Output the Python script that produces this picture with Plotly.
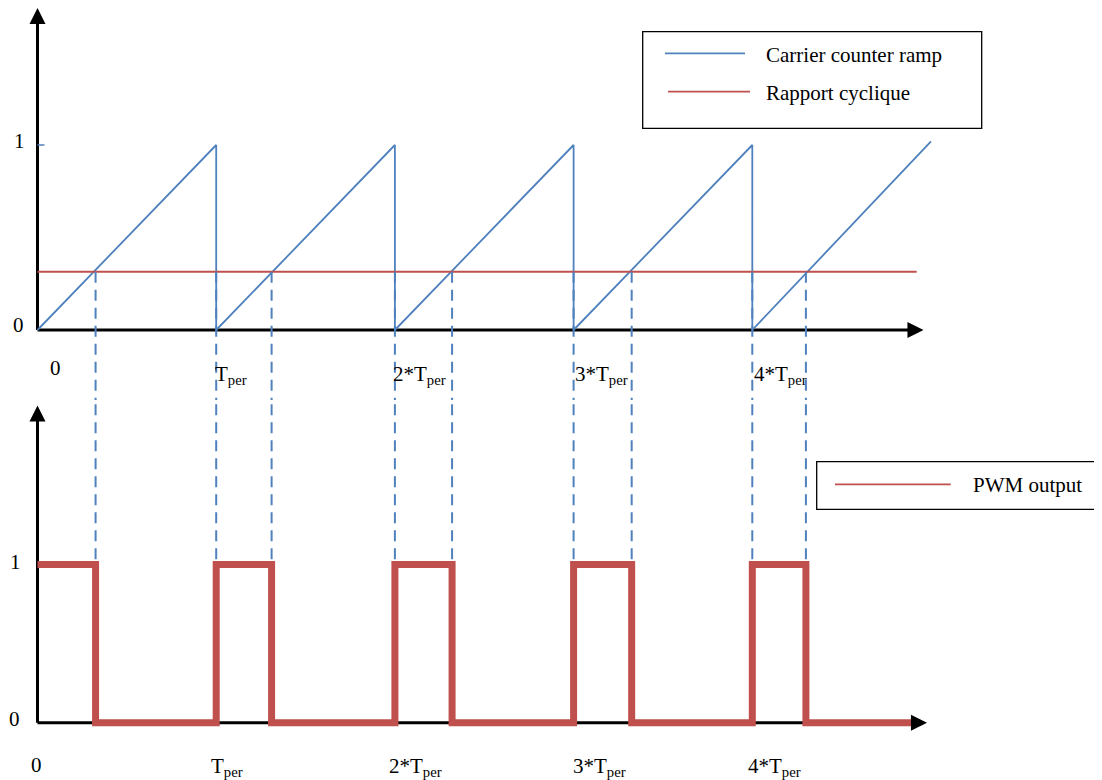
import plotly.graph_objects as go

# ---------------- data ----------------
ramp_t = [0, 1, 1, 2, 2, 3, 3, 4, 4, 5]
ramp_v = [0, 1, 0, 1, 0, 1, 0, 1, 0, 1.02]
duty = 0.315
duty_t = [0, 4.92]
period_starts = [1, 2, 3, 4]
fall_times = [0.325, 1.31, 2.32, 3.325, 4.30]
pwm_t = [0, 0.325, 0.325, 1, 1, 1.31, 1.31, 2, 2, 2.32, 2.32,
         3, 3, 3.325, 3.325, 4, 4, 4.30, 4.30, 4.89]
pwm_v = [1, 1, 0, 0, 1, 1, 0, 0, 1, 1, 0, 0, 1, 1, 0, 0, 1, 1, 0, 0]
tick_pos = [0, 1, 2, 3, 4]
tick_text = ["0", "T<sub>per</sub>", "2*T<sub>per</sub>", "3*T<sub>per</sub>", "4*T<sub>per</sub>"]
level_text = ["0", "1"]
series_names = ["Carrier counter ramp", "Rapport cyclique", "PWM output"]

# ---------------- styles / geometry ----------------
BLUE = "#4F81BD"
RED = "#C0504D"
FONT = "Liberation Serif"
FS = 21

PAGE_W, PAGE_H = 1102, 780
OFF = 8                      # default page margin around the plot div
W, H = PAGE_W - OFF, PAGE_H - OFF

# geometry below is given in page pixels, converted to figure coordinates
X0_PX, PER_PX = 37.5, 178.7
Y0_TOP, UNIT_TOP = 330.0, 185.0
Y0_BOT, UNIT_BOT = 722.7, 158.2
SPLIT = 400.0


def xt(px):
    return (px - X0_PX) / PER_PX


def ytop(px):
    return (Y0_TOP - px) / UNIT_TOP


def ybot(px):
    return (Y0_BOT - px) / UNIT_BOT


def px_(x):
    return (x - OFF) / W


def py_(y):
    return 1 - (y - OFF) / H


fig = go.Figure()

# top: carrier ramp
fig.add_trace(go.Scatter(x=ramp_t, y=ramp_v, mode="lines", name=series_names[0],
                         line=dict(color=BLUE, width=1.8), xaxis="x", yaxis="y",
                         showlegend=False))
# top: duty level
fig.add_trace(go.Scatter(x=duty_t, y=[duty, duty], mode="lines", name=series_names[1],
                         line=dict(color=RED, width=1.8), xaxis="x", yaxis="y",
                         showlegend=False))

# dashed projection lines (top part and bottom part)
dash_x_top, dash_y_top, dash_x_bot, dash_y_bot = [], [], [], []
for t in sorted(fall_times + period_starts):
    dash_x_top += [t, t, None]
    dash_y_top += [duty, ytop(SPLIT) - 0.2, None]
    dash_x_bot += [t, t, None]
    dash_y_bot += [ybot(SPLIT) + 0.2, 1, None]
fig.add_trace(go.Scatter(x=dash_x_top, y=dash_y_top, mode="lines",
                         line=dict(color=BLUE, width=2, dash="11px,7px"),
                         xaxis="x", yaxis="y", showlegend=False, hoverinfo="skip"))
fig.add_trace(go.Scatter(x=dash_x_bot, y=dash_y_bot, mode="lines",
                         line=dict(color=BLUE, width=2, dash="11px,7px"),
                         xaxis="x2", yaxis="y2", showlegend=False, hoverinfo="skip"))

# bottom: PWM output
fig.add_trace(go.Scatter(x=pwm_t, y=pwm_v, mode="lines", name=series_names[2],
                         line=dict(color=RED, width=7), xaxis="x2", yaxis="y2",
                         showlegend=False))

shapes = []
annotations = []

# axis lines (below traces)
axl = dict(color="black", width=3)
shapes += [
    dict(type="line", xref="x", yref="y", x0=0, x1=0, y0=0, y1=ytop(20), line=axl, layer="below"),
    dict(type="line", xref="x", yref="y", x0=0, x1=xt(912), y0=0, y1=0, line=axl, layer="below"),
    dict(type="line", xref="x2", yref="y2", x0=0, x1=0, y0=0, y1=ybot(416), line=axl, layer="below"),
    dict(type="line", xref="x2", yref="y2", x0=0, x1=xt(915), y0=0, y1=0, line=axl, layer="below"),
]
# small blue tick at level 1 on the top axis
shapes.append(dict(type="line", xref="x", yref="y", x0=0, x1=xt(44.5), y0=1, y1=1,
                   line=dict(color=BLUE, width=1.5)))


# arrow heads
def head(xref, yref, x, y, ax, ay):
    return dict(xref=xref, yref=yref, x=x, y=y, ax=ax, ay=ay, text=" ",
                showarrow=True, arrowhead=2, arrowsize=1.07, arrowwidth=3,
                arrowcolor="black", font=dict(size=4))


annotations += [
    head("x", "y", 0, ytop(8), 0, 16),
    head("x", "y", xt(923.5), 0, -16, 0),
    head("x2", "y2", 0, ybot(405.5), 0, 16),
    head("x2", "y2", xt(927), 0, -16, 0),
]

# level labels
tf = dict(family=FONT, size=FS, color="black")
for (x, y, txt) in [(18, 325, level_text[0]), (19, 141, level_text[1]),
                    (14.5, 718.5, level_text[0]), (15.5, 561.7, level_text[1])]:
    annotations.append(dict(xref="paper", yref="paper", x=px_(x), y=py_(y), text=txt,
                            showarrow=False, font=tf, xanchor="center", yanchor="middle"))

# time tick labels (top and bottom)
top_shift = [10, -3, -4, -1, 0]
bot_shift = [-9, -7, -8, -3, -6]
for k, (p, txt) in enumerate(zip(tick_pos, tick_text)):
    annotations.append(dict(xref="x", yref="paper", x=p, y=py_(368 if k == 0 else 375),
                            text=txt, showarrow=False, font=tf,
                            xanchor="left", yanchor="middle", xshift=top_shift[k]))
    annotations.append(dict(xref="x2", yref="paper", x=p, y=py_(765 if k == 0 else 767),
                            text=txt, showarrow=False, font=tf,
                            xanchor="left", yanchor="middle", xshift=bot_shift[k]))

# legend boxes (drawn manually)
box = dict(color="black", width=1.3)
shapes += [
    dict(type="rect", xref="paper", yref="paper", x0=px_(642.7), x1=px_(981.7),
         y0=py_(128.3), y1=py_(31.7), line=box, fillcolor="white"),
    dict(type="line", xref="paper", yref="paper", x0=px_(665), x1=px_(745),
         y0=py_(53.3), y1=py_(53.3), line=dict(color=BLUE, width=1.8)),
    dict(type="line", xref="paper", yref="paper", x0=px_(668), x1=px_(750),
         y0=py_(91.7), y1=py_(91.7), line=dict(color=RED, width=1.8)),
    dict(type="rect", xref="paper", yref="paper", x0=px_(816.7), x1=px_(1101.3),
         y0=py_(509.3), y1=py_(461.7), line=box, fillcolor="white"),
    dict(type="line", xref="paper", yref="paper", x0=px_(835), x1=px_(950.7),
         y0=py_(484.3), y1=py_(484.3), line=dict(color=RED, width=1.8)),
]
annotations += [
    dict(xref="paper", yref="paper", x=px_(764.3), y=py_(55), text=series_names[0],
         showarrow=False, font=tf, xanchor="left", yanchor="middle"),
    dict(xref="paper", yref="paper", x=px_(764.3), y=py_(93), text=series_names[1],
         showarrow=False, font=tf, xanchor="left", yanchor="middle"),
    dict(xref="paper", yref="paper", x=px_(970.7), y=py_(485), text=series_names[2],
         showarrow=False, font=tf, xanchor="left", yanchor="middle"),
]

xr = [xt(OFF), xt(PAGE_W)]
dom_split = py_(SPLIT)
ax_common = dict(visible=False, showgrid=False, zeroline=False, fixedrange=True)
fig.update_layout(
    width=W, height=H,
    margin=dict(l=0, r=0, t=0, b=0),
    paper_bgcolor="white", plot_bgcolor="white",
    showlegend=False,
    xaxis=dict(domain=[0, 1], range=xr, anchor="y", **ax_common),
    yaxis=dict(domain=[dom_split, 1], range=[ytop(SPLIT), ytop(OFF)], anchor="x", **ax_common),
    xaxis2=dict(domain=[0, 1], range=xr, anchor="y2", **ax_common),
    yaxis2=dict(domain=[0, dom_split], range=[ybot(PAGE_H), ybot(SPLIT)], anchor="x2", **ax_common),
    shapes=shapes,
    annotations=annotations,
    font=dict(family=FONT, size=FS, color="black"),
)

fig.write_html("out.html")
